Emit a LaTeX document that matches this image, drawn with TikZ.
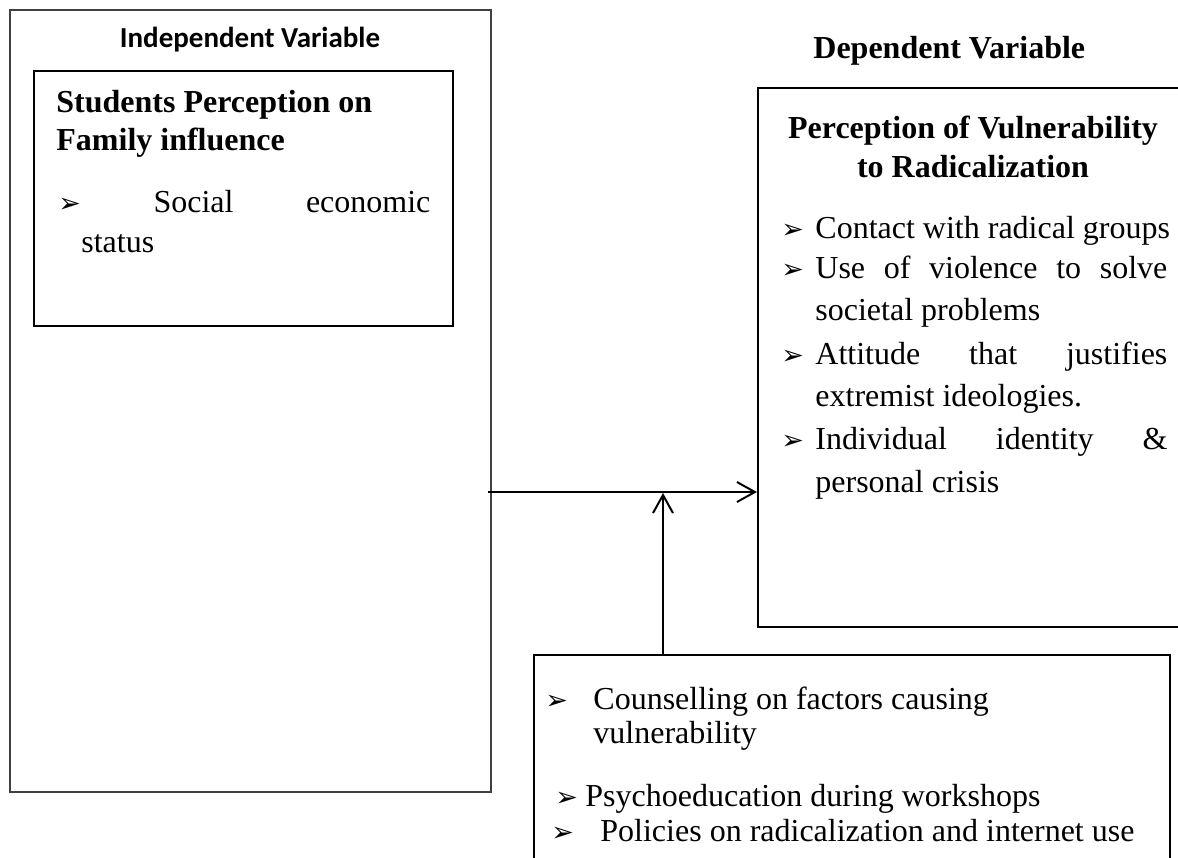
\documentclass[tikz,border=0pt]{standalone}
\usepackage{fontspec}
\setmainfont{Liberation Serif}
\newfontfamily\calibrifont{Carlito}
\newfontfamily\symfont{DejaVu Sans}
\usetikzlibrary{arrows.meta,fit}
\newcommand\bul{{\symfont\fontsize{13.5}{13.5}\selectfont ➢}}
\begin{document}
\begin{tikzpicture}[x=0.5pt,y=-0.5pt,
  txt/.style={anchor=base west,inner sep=0pt,font=\fontsize{16}{19}\selectfont},
  head/.style={inner sep=0pt,font=\fontsize{16}{19}\selectfont\bfseries},
  thinbox/.style={draw=black!75,line width=0.6pt,inner sep=0pt},
  thickbox/.style={draw,line width=1pt,inner sep=0pt},
  arr/.style={line width=1pt,-{Straight Barb[length=9pt,width=10pt,line width=1pt]}}]
\useasboundingbox (0,0) rectangle (1178,857);
% boxes
\node[thinbox,fit={(10,10) (491,792)}] (outer) {};
\node[thickbox,fit={(34,71) (453,326)}] (inner) {};
\node[thickbox,fit={(758,88) (1210,627)}] (right) {};
\node[thickbox,fit={(534,655) (1170,890)}] (bottom) {};
% left texts
\node[anchor=base,inner sep=0pt,font=\calibrifont\fontsize{14.5}{17}\selectfont\bfseries] (iv) at (250,47) {Independent Variable};
\node[head,anchor=base west] (s1) at (56,112) {Students Perception on};
\node[head,anchor=base west] (s2) at (56,150) {Family influence};
\node[txt] (l1) at (58,212) {\hbox to 186pt{\bul\hfill Social\hfill economic}};
\node[txt] (l2) at (81,252) {status};
% right texts
\node[head,anchor=base west] (dv) at (813,58) {Dependent Variable};
\node[head,anchor=base] (p1) at (973,138) {Perception of Vulnerability};
\node[head,anchor=base] (p2) at (973,177) {to Radicalization};
\node[txt] (r1b) at (781,238) {\bul};
\node[txt] (r1) at (815,238) {Contact with radical groups};
\node[txt] (r2b) at (781,278) {\bul};
\node[txt] (r2) at (815,278) {\hbox to 176pt{Use\hfill of\hfill violence\hfill to\hfill solve}};
\node[txt] (r3) at (815,320) {societal problems};
\node[txt] (r4b) at (781,364) {\bul};
\node[txt] (r4) at (815,364) {\hbox to 176pt{Attitude\hfill that\hfill justifies}};
\node[txt] (r5) at (815,406) {extremist ideologies.};
\node[txt] (r6b) at (781,449) {\bul};
\node[txt] (r6) at (815,449) {\hbox to 176pt{Individual\hfill identity\hfill \&}};
\node[txt] (r7) at (815,492) {personal crisis};
% bottom texts
\node[txt] (b1b) at (545,709) {\bul};
\node[txt] (b1) at (593,709) {Counselling on factors causing};
\node[txt] (b2) at (593,743) {vulnerability};
\node[txt] (b3b) at (555,806) {\bul};
\node[txt] (b3) at (585,806) {Psychoeducation during workshops};
\node[txt] (b4b) at (551,841) {\bul};
\node[txt] (b4) at (600,841) {Policies on radicalization and internet use};
% connectors
\coordinate (hs) at (488,492);
\coordinate (mj) at (663,493);
\draw[arr] (hs) -- (hs -| right.west);
\draw[arr] (mj |- bottom.north) -- (mj);
\end{tikzpicture}
\end{document}
